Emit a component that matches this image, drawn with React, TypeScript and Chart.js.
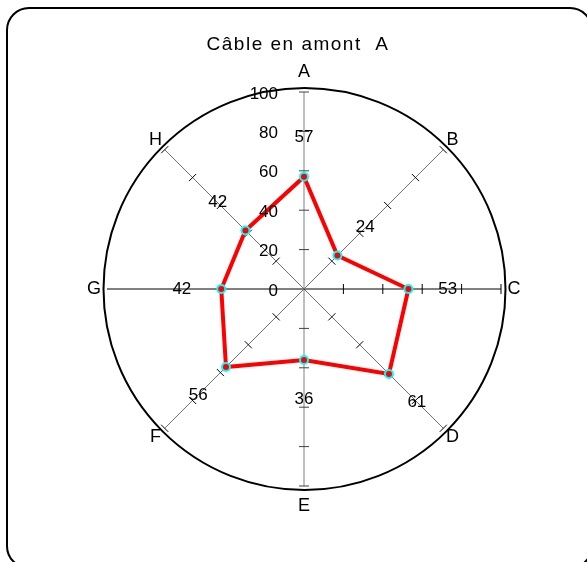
import React, { useEffect, useRef } from 'react';
import { Chart, registerables } from 'chart.js';

Chart.register(...registerables);

const TITLE = 'Câble en amont  A';
const CATEGORIES = ['A', 'B', 'C', 'D', 'E', 'F', 'G', 'H'];
const VALUES = [57, 24, 53, 61, 36, 56, 42, 42];
const TICK_VALUES = [0, 20, 40, 60, 80, 100];
const TICK_LABELS = ['0', '20', '40', '60', '80', '100'];

const FONT = '"Liberation Sans", Arial, sans-serif';

export default function App() {
  const ref = useRef<HTMLCanvasElement>(null);

  useEffect(() => {
    const canvas = ref.current;
    if (!canvas) return;

    const deco = {
      id: 'deco',
      beforeDraw(chart: any) {
        const ctx = chart.ctx;
        ctx.save();
        ctx.fillStyle = '#ffffff';
        ctx.fillRect(0, 0, chart.width, chart.height);
        ctx.beginPath();
        ctx.roundRect(7, 8, 585, 560, 22);
        ctx.lineWidth = 2;
        ctx.strokeStyle = '#000000';
        ctx.stroke();
        ctx.restore();
      },
      beforeDatasetsDraw(chart: any) {
        const s = chart.scales.r;
        const ctx = chart.ctx;
        ctx.save();
        // outer circle
        ctx.beginPath();
        ctx.arc(s.xCenter + 0.5, s.yCenter, s.drawingArea + 4, 0, Math.PI * 2);
        ctx.lineWidth = 2;
        ctx.strokeStyle = '#000000';
        ctx.stroke();
        // tick marks on axes
        ctx.lineWidth = 1;
        CATEGORIES.forEach((_, i) => {
          if (i === 6) return;
          const ang = s.getIndexAngle(i) - Math.PI / 2;
          const px = -Math.sin(ang);
          const py = Math.cos(ang);
          ctx.strokeStyle = i === 0 || i === 4 ? '#404040' : '#000000';
          TICK_VALUES.forEach((v) => {
            if (v === 0) return;
            const p = s.getPointPositionForValue(i, v);
            ctx.beginPath();
            ctx.moveTo(p.x - px * 5, p.y - py * 5);
            ctx.lineTo(p.x + px * 5, p.y + py * 5);
            ctx.stroke();
          });
        });
        ctx.restore();
      },
      afterDatasetsDraw(chart: any) {
        const s = chart.scales.r;
        const ctx = chart.ctx;
        ctx.save();
        ctx.fillStyle = '#000000';
        ctx.textBaseline = 'middle';
        // title
        ctx.font = `19px ${FONT}`;
        ctx.textAlign = 'center';
        if ('letterSpacing' in ctx) (ctx as any).letterSpacing = '1.5px';
        ctx.fillText(TITLE, 298, 45);
        if ('letterSpacing' in ctx) (ctx as any).letterSpacing = '0px';
        // tick labels along the A axis
        ctx.font = `17px ${FONT}`;
        ctx.textAlign = 'right';
        TICK_VALUES.forEach((v, k) => {
          const p = s.getPointPositionForValue(0, v);
          ctx.fillText(TICK_LABELS[k], s.xCenter - 26, p.y + 2);
        });
        // value labels
        ctx.textAlign = 'center';
        VALUES.forEach((v, i) => {
          const p = s.getPointPositionForValue(i, v + 20);
          ctx.fillText(String(v), p.x, p.y);
        });
        // point labels
        ctx.font = `18px ${FONT}`;
        CATEGORIES.forEach((c, i) => {
          const vertical = i === 0 || i === 4;
          const p = s.getPointPosition(i, s.drawingArea + 13 + (vertical ? 7 : 0));
          ctx.fillText(c, p.x, p.y);
        });
        ctx.restore();
      },
    };

    const chart = new Chart(canvas, {
      type: 'radar',
      data: {
        labels: CATEGORIES,
        datasets: [
          {
            data: VALUES,
            borderColor: '#ff0000',
            backgroundColor: 'rgba(0,0,0,0)',
            borderWidth: 4,
            fill: false,
            pointRadius: 4,
            pointBorderWidth: 2,
            pointBorderColor: '#00ffff',
            pointBackgroundColor: '#ff0000',
          },
        ],
      },
      options: {
        responsive: false,
        animation: false,
        devicePixelRatio: 1,
        layout: { padding: { left: 107, right: 85, top: 92, bottom: 76 } },
        plugins: {
          legend: { display: false },
          title: { display: false },
          tooltip: { enabled: false },
        },
        scales: {
          r: {
            min: 0,
            max: 100,
            ticks: { display: false, stepSize: 20 },
            grid: { display: false },
            pointLabels: { display: false },
            angleLines: {
              display: true,
              lineWidth: 1,
              color: (ctx: any) =>
                ctx.index === 2 || ctx.index === 6
                  ? '#000000'
                  : ctx.index === 0 || ctx.index === 4
                  ? '#808080'
                  : '#707070',
            },
          },
        },
      },
      plugins: [deco],
    });

    return () => chart.destroy();
  }, []);

  return (
    <div style={{ position: 'absolute', left: 0, top: 0, width: 587, height: 562 }}>
      <canvas ref={ref} width={587} height={562} style={{ display: 'block' }} />
    </div>
  );
}
